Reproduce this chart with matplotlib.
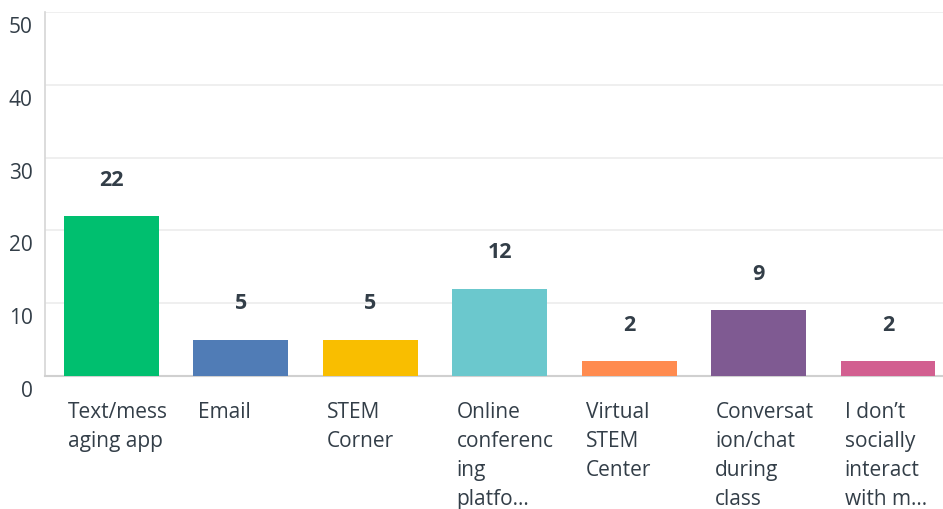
import matplotlib.pyplot as plt
import matplotlib.transforms as mtransforms

# datos
categorias = ["Text/mess\naging app", "Email", "STEM\nCorner",
              "Online\nconferenc\ning\nplatfo...", "Virtual\nSTEM\nCenter",
              "Conversat\nion/chat\nduring\nclass", "I don\u2019t\nsocially\ninteract\nwith m..."]
valores = [22, 5, 5, 12, 2, 9, 2]
colores = ["#00bf6f", "#507cb6", "#f9be00", "#6bc8cd", "#ff8b4f", "#7f5a92", "#d25f90"]
ticks_y = [0, 10, 20, 30, 40, 50]

TEXTO = "#333e48"
plt.rcParams['font.family'] = ['Open Sans', 'DejaVu Sans']

fig = plt.figure(figsize=(9.43, 5.1), dpi=100)
ax = fig.add_axes([45/943, 133/510, 898/943, 364/510])

ancho = 0.734
pos = list(range(len(valores)))
ax.bar(pos, valores, width=ancho, color=colores, zorder=3)

ax.set_xlim(-0.514, len(valores) - 0.575)
ax.set_ylim(0, 50)
ax.set_yticks(ticks_y)
ax.set_yticklabels([str(t) for t in ticks_y], fontsize=15, color=TEXTO)
ax.tick_params(axis='y', length=0, pad=9)
ax.tick_params(axis='x', length=0, labelbottom=False)
ax.yaxis.grid(True, color="#ececec", linewidth=1.2, zorder=0)

# las etiquetas del eje y van un poco mas abajo que su linea
desplaza = mtransforms.ScaledTranslation(0, -12/100, fig.dpi_scale_trans)
for lab in ax.get_yticklabels():
    lab.set_transform(lab.get_transform() + desplaza)

for s in ["top", "right"]:
    ax.spines[s].set_visible(False)
ax.spines["left"].set_color("#d6d6d6")
ax.spines["bottom"].set_color("#d0d0d0")
ax.spines["left"].set_linewidth(1.2)
ax.spines["bottom"].set_linewidth(1.5)

# valores sobre las barras
for x, v in zip(pos, valores):
    ax.annotate(str(v), (x, v), xytext=(0, 26.5), textcoords="offset points",
                ha="center", va="center", fontsize=15.5, fontweight="bold", color=TEXTO)

# etiquetas de categoria, alineadas a la izquierda de cada barra
for x, c in zip(pos, categorias):
    ax.annotate(c, (x - ancho/2, 0), xycoords=("data", "axes fraction"),
                xytext=(3, -18), textcoords="offset points",
                ha="left", va="top", fontsize=15, color=TEXTO, linespacing=1.5)

fig.savefig("out.png", dpi=100)
